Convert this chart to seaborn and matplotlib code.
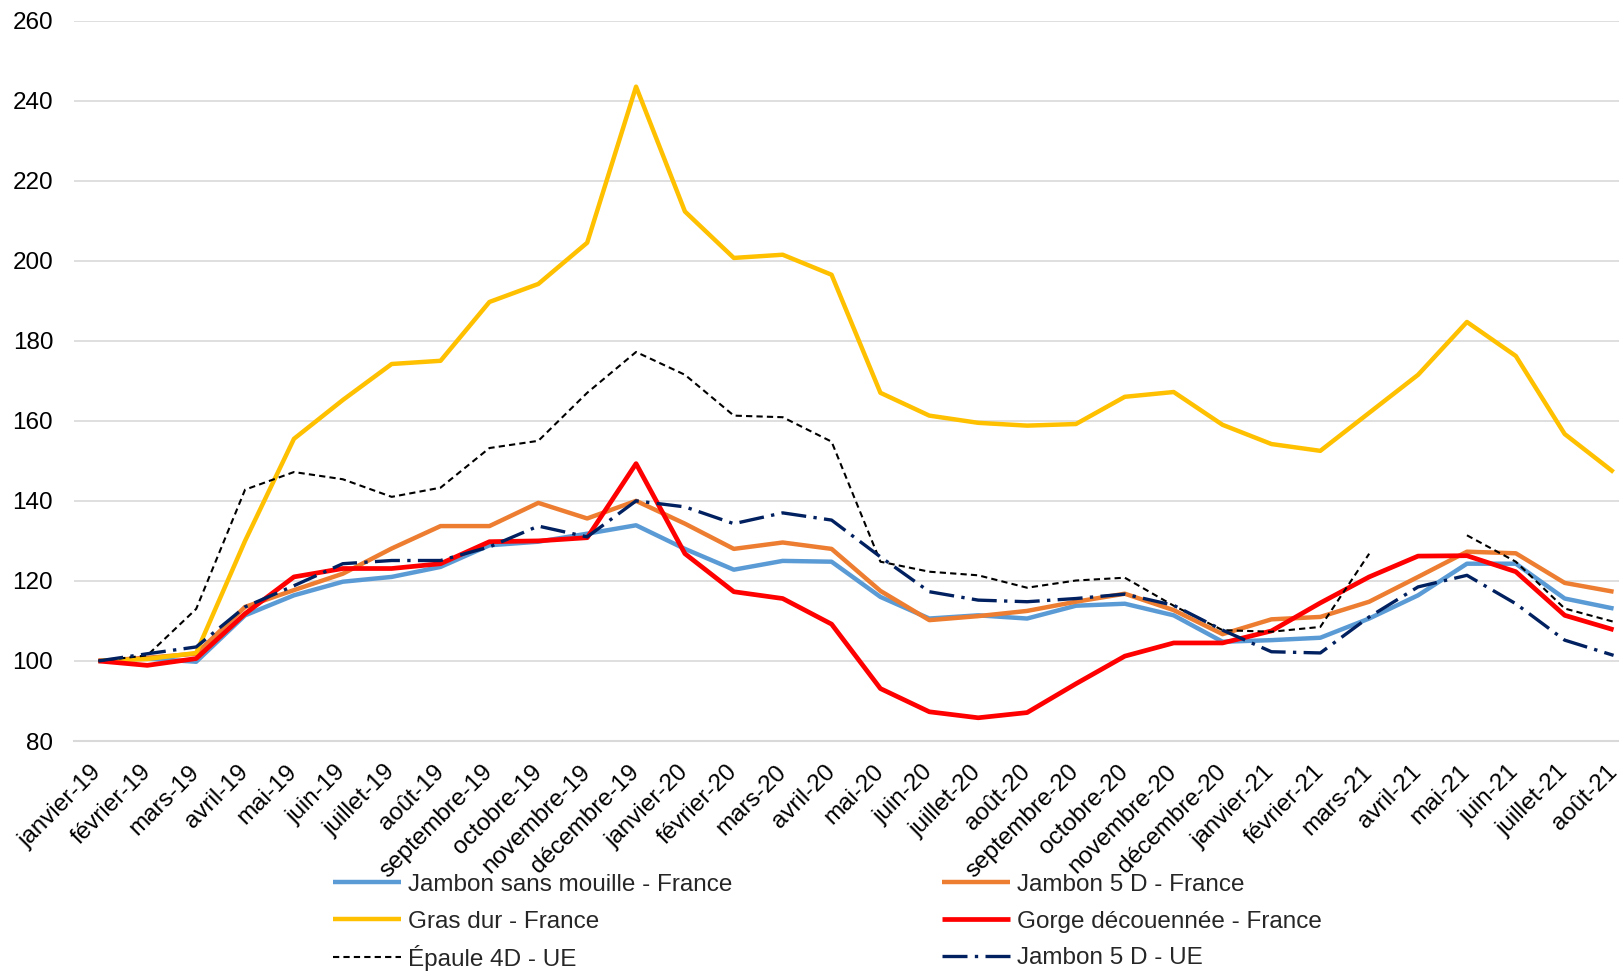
import numpy as np
import pandas as pd
import matplotlib
matplotlib.use('Agg')
import matplotlib.pyplot as plt
import seaborn as sns

# indices base 100 = janvier 2019
mois = ['janvier', 'février', 'mars', 'avril', 'mai', 'juin', 'juillet', 'août',
        'septembre', 'octobre', 'novembre', 'décembre']
categories = [f'{m}-{a}' for a in ('19', '20', '21') for m in mois][:32]

jambon_sm_fr = [100, 100.6, 99.8, 111.4, 116.4, 119.8, 121.0, 123.5, 128.9, 129.8, 131.8, 133.9,
                128.0, 122.8, 125.0, 124.8, 116.0, 110.6, 111.4, 110.6, 113.8, 114.3, 111.4, 104.8,
                105.2, 105.8, 110.6, 116.4, 124.3, 124.3, 115.6, 113.1]
jambon_5d_fr = [100, 100.8, 101.8, 113.5, 117.7, 121.8, 128.1, 133.7, 133.7, 139.5, 135.6, 140.0,
                134.3, 128.0, 129.6, 128.0, 117.5, 110.2, 111.2, 112.5, 114.8, 116.8, 112.7, 106.7,
                110.4, 111.0, 114.8, 121.0, 127.3, 126.9, 119.5, 117.3]
gras_dur_fr = [100, 100.5, 102.0, 130.0, 155.5, 165.2, 174.2, 175.0, 189.7, 194.2, 204.5, 243.5,
               212.3, 200.7, 201.5, 196.5, 167.0, 161.3, 159.5, 158.8, 159.2, 166.0, 167.2, 159.0,
               154.2, 152.5, 162.0, 171.5, 184.7, 176.2, 156.7, 147.2]
gorge_fr = [100, 98.9, 100.6, 111.8, 121.0, 123.1, 123.1, 124.3, 129.8, 130.0, 130.8, 149.3,
            126.8, 117.3, 115.6, 109.2, 93.1, 87.3, 85.8, 87.1, 94.3, 101.2, 104.5, 104.5,
            107.5, 114.5, 121.0, 126.2, 126.3, 122.3, 111.4, 107.8]
epaule_ue = [100, 101.4, 113.0, 142.8, 147.2, 145.4, 141.0, 143.3, 153.2, 155.0, 167.0, 177.2,
             171.5, 161.3, 160.9, 154.8, 124.8, 122.3, 121.4, 118.3, 120.1, 120.8, 113.8, 107.7,
             107.3, 108.5, 126.8, np.nan, 131.4, 124.8, 113.1, 109.8]
jambon_5d_ue = [100, 101.8, 103.5, 113.5, 118.8, 124.3, 125.1, 125.1, 128.5, 133.7, 131.0, 140.0,
                138.5, 134.3, 137.0, 135.2, 126.0, 117.3, 115.2, 114.8, 115.6, 116.7, 113.9, 107.7,
                102.3, 102.0, 111.0, 118.5, 121.4, 114.3, 105.2, 101.4]

series = {
    'Jambon sans mouille - France': jambon_sm_fr,
    'Jambon 5 D - France': jambon_5d_fr,
    'Gras dur - France': gras_dur_fr,
    'Gorge découennée - France': gorge_fr,
    'Épaule 4D - UE': epaule_ue,
    'Jambon 5 D - UE': jambon_5d_ue,
}
styles = {
    'Jambon sans mouille - France': dict(color='#5B9BD5', lw=3.2, ls='-'),
    'Jambon 5 D - France': dict(color='#ED7D31', lw=3.2, ls='-'),
    'Gras dur - France': dict(color='#FFC000', lw=3.2, ls='-'),
    'Gorge découennée - France': dict(color='#FF0000', lw=3.4, ls='-'),
    'Épaule 4D - UE': dict(color='#000000', lw=1.5, ls=(0, (3.0, 2.0))),
    'Jambon 5 D - UE': dict(color='#002060', lw=2.4, ls=(0, (7.5, 2.2, 1, 2.2))),
}

sns.set_style('white')
plt.rcParams['font.family'] = ['Liberation Sans', 'DejaVu Sans']
FS = 17.5
W, H = 1619, 971

fig = plt.figure(figsize=(W / 100, H / 100), dpi=100)
ax = fig.add_axes([74 / W, 1 - 741 / H, (1638 - 74) / W, (741 - 20.6) / H])

x = np.arange(len(categories))
for name, vals in series.items():
    vals = np.array(vals, dtype=float)
    seg = np.cumsum(np.isnan(vals))  # break the line where a month is missing
    df = pd.DataFrame({'x': x, 'y': vals, 'seg': seg}).dropna()
    st = styles[name]
    sns.lineplot(data=df, x='x', y='y', units='seg', estimator=None, ax=ax,
                 color=st['color'], linewidth=st['lw'], linestyle=st['ls'],
                 solid_capstyle='butt', dash_capstyle='butt', label=name, legend=False)

ax.set_xlim(-0.5, len(categories) - 0.5)
ax.set_ylim(80, 260)
ax.set_yticks(range(80, 261, 20))
ax.set_xlabel('')
ax.set_ylabel('')
ax.yaxis.grid(True, color='#D9D9D9', linewidth=1.2)
ax.xaxis.grid(False)
ax.set_axisbelow(True)
for s in ['top', 'right', 'left']:
    ax.spines[s].set_visible(False)
ax.spines['bottom'].set_color('#D9D9D9')
ax.spines['bottom'].set_linewidth(1.5)

ax.set_xticks(x)
ax.set_xticklabels(categories)
ax.set_xticks(np.arange(-0.5, len(categories), 1), minor=True)
ax.tick_params(axis='x', which='major', length=0, pad=20, labelsize=FS, labelcolor='black')
ax.tick_params(axis='x', which='minor', length=4.5, width=1.2, color='#D9D9D9', direction='out')
ax.tick_params(axis='y', length=0, pad=15, labelsize=FS, labelcolor='black')
for lab in ax.get_xticklabels():
    lab.set_rotation(45)
    lab.set_ha('right')
    lab.set_va('center')
    lab.set_rotation_mode('anchor')

# legend: 2 columns x 3 rows, one entry per slot so rows stay evenly spaced
handles, labels = ax.get_legend_handles_labels()
uniq = {}
for h, l in zip(handles, labels):
    uniq.setdefault(l, h)
slots = {
    'Jambon sans mouille - France': (333, 885),
    'Gras dur - France': (333, 922),
    'Épaule 4D - UE': (333, 958),
    'Jambon 5 D - France': (942, 885),
    'Gorge découennée - France': (942, 922),
    'Jambon 5 D - UE': (942, 958),
}
for name, (px, py) in slots.items():
    fig.legend([uniq[name]], [name], loc='center left',
               bbox_to_anchor=(px / W, 1 - py / H), frameon=False, fontsize=FS,
               handlelength=2.8, handletextpad=0.3, borderpad=0, borderaxespad=0)

fig.savefig('out.png', dpi=100)
